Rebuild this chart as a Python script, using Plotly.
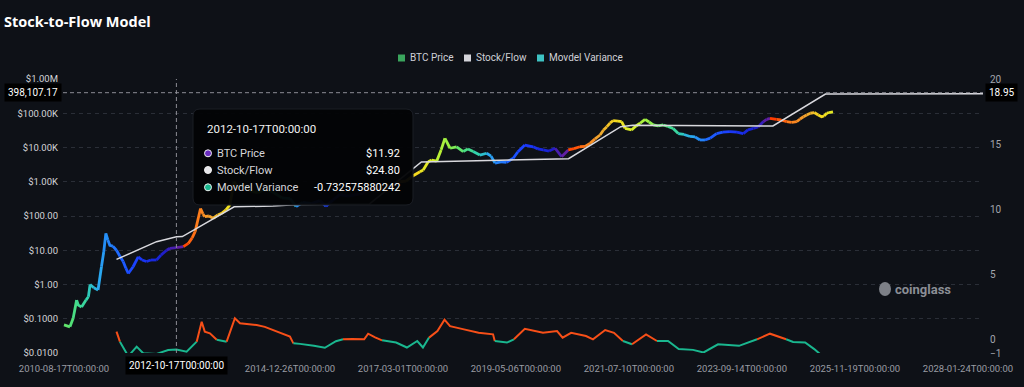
import math
from datetime import datetime
import plotly.graph_objects as go

# ---------------- data ----------------
price_dates = [
    "2010-08-17", "2010-09-28", "2010-10-21", "2010-11-14", "2010-11-26", "2010-12-19",
    "2011-01-19", "2011-02-05", "2011-02-17", "2011-03-15", "2011-04-14", "2011-04-26",
    "2011-05-08", "2011-05-24", "2011-06-08", "2011-06-22", "2011-07-06", "2011-07-27",
    "2011-08-22", "2011-09-15", "2011-10-08", "2011-10-27", "2011-11-13", "2011-12-01",
    "2011-12-17", "2012-01-22", "2012-02-18", "2012-03-21", "2012-04-20", "2012-05-30",
    "2012-06-30", "2012-08-09", "2012-09-02", "2012-10-17", "2012-12-05", "2013-01-09",
    "2013-02-05", "2013-02-26", "2013-03-19", "2013-04-05", "2013-04-22", "2013-05-05",
    "2013-06-03", "2013-07-03", "2013-08-05", "2013-09-01", "2013-10-01", "2013-10-29",
    "2013-11-27", "2013-12-25", "2014-01-29", "2014-03-18", "2014-05-14", "2014-07-02",
    "2014-08-28", "2014-10-30", "2014-12-26", "2015-02-07", "2015-03-26", "2015-05-28",
    "2015-07-24", "2015-09-06", "2015-10-24", "2015-12-13", "2016-02-08", "2016-04-04",
    "2016-05-23", "2016-06-28", "2016-08-23", "2016-10-26", "2016-12-21", "2017-02-10",
    "2017-03-22", "2017-05-12", "2017-06-29", "2017-07-22", "2017-08-26", "2017-09-20",
    "2017-10-25", "2017-11-25", "2017-12-22", "2018-01-27", "2018-03-14", "2018-04-30",
    "2018-06-02", "2018-07-09", "2018-08-25", "2018-10-12", "2018-11-12", "2018-12-10",
    "2019-01-21", "2019-03-01", "2019-04-17", "2019-05-19", "2019-07-08", "2019-09-05",
    "2019-10-08", "2019-11-15", "2019-12-25", "2020-02-06", "2020-03-23", "2020-05-09",
    "2020-06-18", "2020-07-30", "2020-09-04", "2020-10-09", "2020-11-14", "2020-12-19",
    "2021-01-12", "2021-02-05", "2021-02-28", "2021-03-21", "2021-04-24", "2021-05-20",
    "2021-06-13", "2021-07-29", "2021-08-29", "2021-09-27", "2021-11-01", "2021-11-29",
    "2021-12-29", "2022-02-01", "2022-03-09", "2022-04-11", "2022-05-18", "2022-06-23",
    "2022-08-02", "2022-09-14", "2022-10-19", "2022-11-23", "2022-12-28", "2023-02-03",
    "2023-03-20", "2023-05-03", "2023-06-22", "2023-08-10", "2023-09-24", "2023-10-27",
    "2023-12-04", "2024-01-06", "2024-02-13", "2024-03-07", "2024-03-30", "2024-05-16",
    "2024-06-16", "2024-07-26", "2024-08-30", "2024-10-05", "2024-10-28", "2024-11-21",
    "2024-12-14", "2025-01-08", "2025-02-05", "2025-03-05", "2025-03-29", "2025-04-15",
    "2025-05-04", "2025-05-20", "2025-06-17",
]
price_values = [
    0.066, 0.058, 0.105, 0.35, 0.25, 0.22,
    0.35, 0.44, 1.0, 0.8, 0.69, 1.66,
    3.3, 8.9, 31, 20, 14, 13.2,
    10, 6.7, 4.7, 3.0, 2.1, 2.6,
    3.3, 6.4, 5.2, 4.7, 5.2, 5.2,
    7.2, 10, 11.4, 11.92, 12.7, 15.8,
    23, 35, 76, 166, 115, 96,
    100, 86, 107, 120, 150, 210,
    1000, 700, 800, 550, 480, 620,
    500, 340, 320, 190, 250, 230,
    280, 195, 290, 430, 380, 420,
    450, 650, 580, 640, 800, 1000,
    1050, 1500, 1950, 2200, 3850, 4300,
    4000, 8500, 18600, 9500, 10500, 7600,
    9100, 7600, 6000, 6800, 5600, 3500,
    3800, 3700, 4850, 7400, 11800, 10500,
    9100, 8500, 7900, 9500, 5400, 8500,
    9300, 10500, 10800, 13200, 17800, 23200,
    32500, 40500, 52000, 60500, 59000, 57000,
    36000, 32500, 42500, 51000, 66500, 55500,
    45500, 42500, 45500, 41000, 36000, 25500,
    24000, 21000, 20500, 16600, 16600, 18700,
    25500, 28000, 29000, 28000, 25500, 32500,
    36000, 40000, 57000, 66500, 71000, 66000,
    63500, 57000, 54000, 57000, 68000, 79000,
    89000, 100000, 105000, 89000, 79000, 83000,
    100000, 105000, 110000,
]

sf_dates = ["2011-08-22", "2012-05-30", "2012-10-17", "2012-11-28", "2013-11-28",
            "2014-08-28", "2015-03-01", "2016-07-09", "2017-07-09", "2018-08-25", "2020-05-11",
            "2021-05-14", "2021-08-07", "2024-04-20", "2025-04-25", "2028-05-09"]
sf_values = [5.4, 17.8, 24.8, 25.0, 185, 196, 215, 225, 3780, 4100, 4700,
             40500, 44500, 42500, 365000, 372000]

var_dates = [
    "2011-08-22", "2011-09-15", "2011-11-13", "2012-01-11", "2012-02-26", "2012-05-30",
    "2012-08-20", "2012-10-17", "2012-12-28", "2013-03-09", "2013-04-13", "2013-05-05",
    "2013-06-10", "2013-07-28", "2013-10-06", "2013-12-03", "2014-01-08", "2014-03-05",
    "2014-05-05", "2014-07-02", "2014-08-31", "2014-10-30", "2014-12-26", "2015-01-19",
    "2015-03-07", "2015-06-13", "2015-08-29", "2015-11-15", "2016-01-04", "2016-03-08",
    "2016-06-01", "2016-06-29", "2016-08-17", "2016-10-05", "2017-01-12", "2017-03-29",
    "2017-06-10", "2017-07-20", "2017-09-01", "2017-10-30", "2017-12-19", "2018-01-27",
    "2018-05-05", "2018-08-16", "2018-11-26", "2018-12-08", "2019-03-04", "2019-04-22",
    "2019-07-08", "2019-11-13", "2020-02-20", "2020-03-30", "2020-05-29", "2020-09-11",
    "2020-10-30", "2021-01-24", "2021-03-27", "2021-05-29", "2021-08-01", "2021-11-08",
    "2022-01-24", "2022-04-12", "2022-06-26", "2022-10-05", "2022-12-18", "2023-03-30",
    "2023-08-25", "2023-12-30", "2024-03-30", "2024-07-22", "2024-09-09", "2024-12-03",
    "2025-02-05", "2025-04-22", "2025-06-12",
]
var_values = [
    0.64, -0.13, -1.25, -0.51, -1.02, -1.07,
    -0.77, -0.732575880242, -0.9, -0.13, 1.40, 0.64,
    0.51, 0.02, -0.13, 1.66, 1.28, 1.2,
    1.15, 1.0, 0.77, 0.5, 0.26, -0.26,
    -0.3, -0.45, -0.6, -0.1, 0.05, 0.08,
    0.05, 0.48, 0.2, -0.03, -0.2, -0.58,
    -0.08, -0.58, 0.18, 0.68, 1.56, 1.06,
    0.81, 0.55, 0.43, -0.08, -0.2, 0.05,
    0.86, 0.55, 0.68, 0.18, 0.55, 0.3,
    0.05, 0.76, 0.55, -0.08, -0.33, 0.43,
    -0.08, -0.08, -0.7, -0.76, -0.96, -0.33,
    -0.45, 0.05, 0.48, 0.05, -0.15, -0.2,
    -0.7, -1.41, -1.16,
]

x_tick_dates = ["2010-08-17", "2012-10-17", "2014-12-26", "2017-03-01", "2019-05-06",
                "2021-07-10", "2023-09-14", "2025-11-19", "2028-01-24"]
x_tick_labels = [d + "T00:00:00" for d in x_tick_dates]
left_tick_values = [0.01, 0.1, 1, 10, 100, 1e3, 1e4, 1e5, 1e6]
left_tick_labels = ["$0.0100", "$0.1000", "$1.00", "$10.00", "$100.00",
                    "$1.00K", "$10.00K", "$100.00K", "$1.00M"]
right_tick_values = [-1, 0, 5, 10, 15, 20]
halving_dates = ["2008-11-28", "2012-11-28", "2016-07-09", "2020-05-11", "2024-04-20", "2028-04-15"]

series_names = ["BTC Price", "Stock/Flow", "Movdel Variance"]
legend_colors = ["#3aa55d", "#d4d4da", "#3ec3c3"]

hover_date = "2012-10-17"
hover_price = 11.92
hover_sf = 24.80
hover_var = -0.732575880242
cross_left = 398107.17
cross_right = 18.95

# ---------------- layout geometry ----------------
W, H = 1024, 387
ML, MR, MT, MB = 63, 41, 79, 34
PW, PH = W - ML - MR, H - MT - MB


def px(x):
    return (x - ML) / PW


def py(y):
    return (H - MB - y) / PH


BG = "#0e1117"
FONT = "Roboto"

# ---------------- colour helpers ----------------
RAINBOW = [(0.00, (255, 60, 0)), (0.08, (255, 122, 26)), (0.16, (240, 168, 48)),
           (0.24, (245, 222, 30)), (0.32, (212, 240, 42)), (0.40, (142, 240, 74)),
           (0.47, (79, 224, 122)), (0.54, (47, 208, 176)), (0.60, (42, 168, 240)),
           (0.68, (31, 108, 255)), (0.78, (26, 60, 255)), (0.91, (24, 30, 205)),
           (0.96, (84, 30, 168)), (1.00, (106, 31, 160))]


def cmap(p):
    p = min(max(p, 0.0), 1.0)
    for (a, ca), (b, cb) in zip(RAINBOW[:-1], RAINBOW[1:]):
        if a <= p <= b:
            t = (p - a) / (b - a) if b > a else 0
            c = [round(ca[k] + (cb[k] - ca[k]) * t) for k in range(3)]
            return "rgb(%d,%d,%d)" % tuple(c)
    return "rgb(%d,%d,%d)" % RAINBOW[-1][1]


H_DT = [datetime.fromisoformat(d) for d in halving_dates]


def phase(dt):
    for a, b in zip(H_DT[:-1], H_DT[1:]):
        if a <= dt < b:
            return (dt - a) / (b - a)
    return 0.0


fig = go.Figure()

# BTC price coloured by halving-cycle phase
pdt = [datetime.fromisoformat(d) for d in price_dates]
seg_cols = []
for i in range(len(pdt) - 1):
    mid = pdt[i] + (pdt[i + 1] - pdt[i]) / 2
    seg_cols.append(cmap(round(phase(mid) * 60) / 60))
start = 0
for i in range(1, len(seg_cols) + 1):
    if i == len(seg_cols) or seg_cols[i] != seg_cols[start]:
        fig.add_trace(go.Scatter(x=price_dates[start:i + 1], y=price_values[start:i + 1],
                                 mode="lines", line=dict(color=seg_cols[start], width=2.8),
                                 showlegend=False, hoverinfo="skip", yaxis="y"))
        start = i

# Stock/Flow line
fig.add_trace(go.Scatter(x=sf_dates, y=sf_values, mode="lines", name=series_names[1],
                         line=dict(color="#d9d9de", width=1.5),
                         showlegend=False, hoverinfo="skip", yaxis="y"))

# Model variance, red above zero, green below
RED, GREEN = "#f74f18", "#1ab78f"
vcols = [RED if (var_values[i] + var_values[i + 1]) / 2 >= 0 else GREEN
         for i in range(len(var_values) - 1)]
start = 0
for i in range(1, len(vcols) + 1):
    if i == len(vcols) or vcols[i] != vcols[start]:
        fig.add_trace(go.Scatter(x=var_dates[start:i + 1], y=var_values[start:i + 1],
                                 mode="lines", line=dict(color=vcols[start], width=2),
                                 showlegend=False, hoverinfo="skip", yaxis="y2"))
        start = i

# ---------------- shapes / annotations ----------------
shapes = []
ann = []

# legend (squares + labels), centred like the reference
legend_icon_x = [398, 464, 537]
for lx, name, col in zip(legend_icon_x, series_names, legend_colors):
    shapes.append(dict(type="rect", xref="paper", yref="paper",
                       xsizemode="pixel", ysizemode="pixel", xanchor=px(lx + 3.5),
                       yanchor=py(58), x0=-3.5, x1=3.5, y0=-3.5, y1=3.5,
                       fillcolor=col, line=dict(width=0)))
    ann.append(dict(x=px(lx + 10), y=py(58), xref="paper", yref="paper", xanchor="left",
                    yanchor="middle", text=name, showarrow=False,
                    font=dict(family=FONT, size=10, color="#cfd0d6")))

# crosshair
cross_y = (math.log10(cross_left) + 2) / 8
shapes.append(dict(type="line", xref="x", yref="paper", x0=hover_date, x1=hover_date,
                   y0=0, y1=1, line=dict(color="#8c8c94", width=1, dash="4px,3px")))
shapes.append(dict(type="line", xref="paper", yref="paper", x0=0, x1=1,
                   y0=cross_y, y1=cross_y, line=dict(color="#8c8c94", width=1, dash="4px,3px")))

# tooltip box (rounded)
x0, y0, x1, y1, r = 193, 109, 413, 205, 7
path = ("M {a},{b} L {c},{b} Q {d},{b} {d},{e} L {d},{f} Q {d},{g} {c},{g} "
        "L {a},{g} Q {h},{g} {h},{f} L {h},{e} Q {h},{b} {a},{b} Z").format(
    a=px(x0 + r), b=py(y0), c=px(x1 - r), d=px(x1), e=py(y0 + r), f=py(y1 - r),
    g=py(y1), h=px(x0))
shapes.append(dict(type="path", xref="paper", yref="paper", path=path,
                   fillcolor="rgba(3,4,6,0.96)", line=dict(color="#1b1e25", width=1)))

rows_y = [153.3, 170.0, 187.3]
dot_cols = ["#6a2cc0", "#e6e6ea", "#1ab78f"]
for ry, dc in zip(rows_y, dot_cols):
    shapes.append(dict(type="circle", xref="paper", yref="paper",
                       xsizemode="pixel", ysizemode="pixel",
                       xanchor=px(208), yanchor=py(ry), x0=-3.5, x1=3.5, y0=-3.5, y1=3.5,
                       fillcolor=dc, line=dict(color="#f0f0f0", width=1)))

ann.append(dict(x=px(205), y=py(129), xref="paper", yref="paper", xanchor="left",
                yanchor="middle", text=hover_date + "T00:00:00", showarrow=False,
                font=dict(family=FONT, size=11.5, color="#f2f2f2")))
values = ["${:,.2f}".format(hover_price), "${:,.2f}".format(hover_sf), "{:.12f}".format(hover_var)]
for ry, lab, val in zip(rows_y, series_names, values):
    ann.append(dict(x=px(215), y=py(ry), xref="paper", yref="paper", xanchor="left",
                    yanchor="middle", text=lab, showarrow=False,
                    font=dict(family=FONT, size=11, color="#d6d6da")))
    ann.append(dict(x=px(402), y=py(ry), xref="paper", yref="paper", xanchor="right",
                    yanchor="middle", text=val, showarrow=False,
                    font=dict(family=FONT, size=11, color="#ffffff")))

# crosshair axis labels
ann.append(dict(x=0, y=cross_y, xref="paper", yref="paper", xanchor="right", yanchor="middle",
                xshift=-1, text="{:,.2f}".format(cross_left), showarrow=False, bgcolor="#000000",
                borderpad=3, font=dict(family=FONT, size=10, color="#ffffff")))
ann.append(dict(x=1, y=cross_y, xref="paper", yref="paper", xanchor="left", yanchor="middle",
                xshift=2, text="{:.2f}".format(cross_right), showarrow=False, bgcolor="#000000",
                borderpad=3, font=dict(family=FONT, size=10, color="#ffffff")))
ann.append(dict(x=hover_date, y=py(366), xref="x", yref="paper", xanchor="center",
                yanchor="middle", text=hover_date + "T00:00:00", showarrow=False,
                bgcolor="#000000", borderpad=3, font=dict(family=FONT, size=10, color="#ffffff")))

# watermark
shapes.append(dict(type="circle", xref="paper", yref="paper", xsizemode="pixel",
                   ysizemode="pixel", xanchor=px(885), yanchor=py(289), x0=-6, x1=6, y0=-7, y1=7,
                   fillcolor="#7d8087", line=dict(width=0)))
ann.append(dict(x=px(893), y=py(289), xref="paper", yref="paper", xanchor="left",
                yanchor="middle", text="<b>coinglass</b>", showarrow=False,
                font=dict(family=FONT, size=13, color="#8b8e95")))

# tick labels: the hovered date's tick is covered by the crosshair label
tick_text = ["" if d == hover_date else t for d, t in zip(x_tick_dates, x_tick_labels)]

fig.update_layout(
    width=W, height=H,
    paper_bgcolor=BG, plot_bgcolor=BG,
    margin=dict(l=ML, r=MR, t=MT, b=MB, pad=0),
    title=dict(text="Stock-to-Flow Model", x=4 / W, xanchor="left", y=1 - 22 / H,
               yanchor="middle", font=dict(family="Open Sans", size=14.5, color="#ffffff",
                                           weight="bold")),
    showlegend=False,
    xaxis=dict(type="date", range=["2010-08-10", "2028-05-09"], tickvals=x_tick_dates,
               ticktext=tick_text, showgrid=False, zeroline=False, showline=False,
               ticks="", ticklabelstandoff=8,
               tickfont=dict(family=FONT, size=9.5, color="#9a9ca4"), tickangle=0),
    yaxis=dict(type="log", range=[-2, 6], tickvals=left_tick_values, ticktext=left_tick_labels,
               showgrid=True, gridcolor="#2a2e37", griddash="4px,4px", gridwidth=1,
               zeroline=False, showline=False, ticks="", ticklabelstandoff=4,
               tickfont=dict(family=FONT, size=9.5, color="#d4d4d8")),
    yaxis2=dict(overlaying="y", side="right", range=[-1, 20], tickvals=right_tick_values,
                showgrid=False, zeroline=False, showline=False, ticks="", ticklabelstandoff=6,
                tickfont=dict(family=FONT, size=10, color="#a3a5ad")),
    shapes=shapes,
    annotations=ann,
    hovermode=False,
)

fig.write_html("out.html", config={"displayModeBar": False},
               post_script="document.body.style.margin='0';document.body.style.background='%s';" % BG)
